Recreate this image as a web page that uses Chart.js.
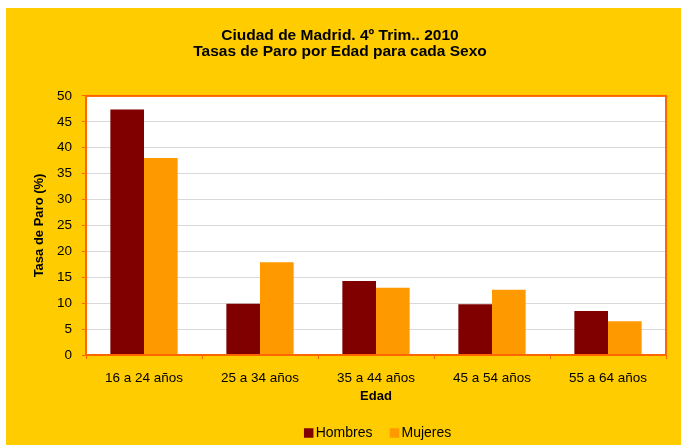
<!DOCTYPE html>
<html>
<head>
<meta charset="utf-8">
<script src="https://cdn.jsdelivr.net/npm/chart.js@4"></script>
<style>
html,body{margin:0;padding:0;background:#fff;}
#wrap{position:absolute;left:0;top:0;width:681px;height:445px;}
</style>
</head>
<body>
<div id="wrap"><canvas id="c" width="681" height="445"></canvas></div>
<script>
const categories = ["16 a 24 años", "25 a 34 años", "35 a 44 años", "45 a 54 años", "55 a 64 años"];
const hombres = [47.4, 9.9, 14.3, 9.8, 8.5];
const mujeres = [38.0, 17.9, 13.0, 12.6, 6.5];
const yTicks = [0, 5, 10, 15, 20, 25, 30, 35, 40, 45, 50];
const titleLines = ["Ciudad de Madrid. 4º Trim.. 2010", "Tasas de Paro por Edad para cada Sexo"];

const FONT = "'Liberation Sans', Arial, sans-serif";

const bgPlugin = {
  id: 'bg',
  afterLayout(chart) {
    // shift title / legend boxes to match the reference placement
    const t = chart.titleBlock;
    if (t) { t.left += 4; t.right += 4; }
    const lg = chart.legend;
    if (lg) {
      lg.left = 94; lg.right = 666;
      lg.top = 404; lg.bottom = 445;
    }
  },
  beforeDraw(chart) {
    const ctx = chart.ctx;
    ctx.save();
    ctx.fillStyle = '#ffffff';
    ctx.fillRect(0, 0, chart.width, chart.height);
    ctx.fillStyle = '#FFCC00';
    ctx.fillRect(6, 8, chart.width - 6, chart.height - 8);
    const a = chart.chartArea;
    ctx.fillStyle = '#ffffff';
    ctx.fillRect(a.left, a.top, a.right - a.left, a.bottom - a.top);
    ctx.restore();
  },
  afterDatasetsDraw(chart) {
    const ctx = chart.ctx;
    const a = chart.chartArea;
    ctx.save();
    ctx.strokeStyle = '#FF6600';
    ctx.lineWidth = 2;
    ctx.strokeRect(a.left, a.top, a.right - a.left, a.bottom - a.top);
    ctx.restore();
  }
};

new Chart(document.getElementById('c'), {
  type: 'bar',
  data: {
    labels: categories,
    datasets: [
      { label: 'Hombres', data: hombres, backgroundColor: '#800000', borderWidth: 0 },
      { label: 'Mujeres', data: mujeres, backgroundColor: '#FF9900', borderWidth: 0 }
    ]
  },
  options: {
    responsive: false,
    animation: false,
    devicePixelRatio: 1,
    layout: { padding: { top: 8, left: 6, right: 15, bottom: 0 } },
    datasets: { bar: { barPercentage: 1.0, categoryPercentage: 0.58 } },
    plugins: {
      title: {
        display: true,
        text: titleLines,
        color: '#000',
        font: { family: FONT, size: 15.5, weight: 'bold', lineHeight: 1.03 },
        padding: { top: 20, bottom: 36 }
      },
      legend: {
        position: 'bottom',
        maxHeight: 25,
        labels: {
          color: '#000',
          font: { family: FONT, size: 14 },
          usePointStyle: true,
          pointStyle: 'rect',
          boxWidth: 0.01,
          boxHeight: 9.5,
          padding: 22
        }
      },
      tooltip: { enabled: false }
    },
    scales: {
      x: {
        grid: { display: true, drawOnChartArea: false, drawTicks: true, tickLength: 4, color: '#FF6600', offset: true },
        border: { display: true, color: '#FF6600', width: 2 },
        ticks: { color: '#000', font: { family: FONT, size: 13.5 }, padding: 11 },
        title: { display: true, text: 'Edad', color: '#000', font: { family: FONT, size: 13, weight: 'bold' }, padding: { top: 2, bottom: 16 } },
        afterFit(scale) { scale.height = 65; }
      },
      y: {
        min: 0, max: 50,
        afterBuildTicks(scale) { scale.ticks = yTicks.map(v => ({ value: v })); },
        grid: { color: '#D9D9D9', lineWidth: 1, tickLength: 4, drawTicks: true, tickColor: '#FF6600' },
        border: { display: true, color: '#FF6600', width: 2 },
        ticks: { color: '#000', font: { family: FONT, size: 13.5 }, padding: 10 },
        title: { display: true, text: 'Tasa de Paro (%)', color: '#000', font: { family: FONT, size: 13, weight: 'bold' }, padding: { top: 26, bottom: 10 } },
        afterFit(scale) { scale.width = 80; }
      }
    }
  },
  plugins: [bgPlugin]
});
</script>
</body>
</html>
